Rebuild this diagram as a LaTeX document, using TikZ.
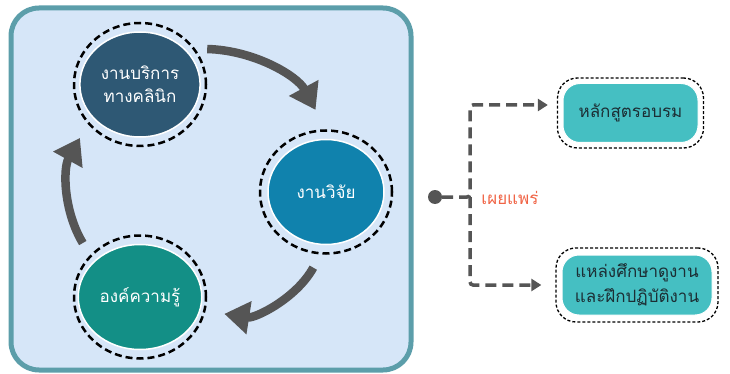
\documentclass[tikz,border=0pt]{standalone}
\usepackage{fontspec}
\usepackage{tikz}
\usetikzlibrary{shapes.geometric, arrows.meta}
\newfontfamily\thaifont[Script=Thai]{Loma}
\definecolor{panelfill}{RGB}{214,230,248}
\definecolor{panelline}{RGB}{92,158,170}
\definecolor{clinicblue}{RGB}{46,88,116}
\definecolor{researchblue}{RGB}{16,130,173}
\definecolor{knowgreen}{RGB}{19,143,134}
\definecolor{boxteal}{RGB}{69,191,194}
\definecolor{gris}{RGB}{85,85,85}
\definecolor{naranja}{RGB}{240,100,70}
\definecolor{tinta}{RGB}{28,46,52}

\begin{document}
\begin{tikzpicture}[
  x=1pt, y=1pt,
  ring/.style={draw, ellipse, line width=2.5pt, dash pattern=on 7pt off 4pt,
               minimum width=132pt, minimum height=123pt, inner sep=0pt},
  disc/.style={ellipse, draw=white, line width=1.5pt, minimum width=116pt,
               minimum height=105pt, align=center, text=white,
               font=\thaifont\fontsize{17}{23}\selectfont},
  frame/.style={draw, rounded corners=20pt, line width=1.3pt,
                dash pattern=on 3pt off 2pt, inner sep=0pt},
  pill/.style={rounded corners=17pt, draw=white, line width=1pt, fill=boxteal,
               align=center, text=tinta, inner sep=0pt,
               font=\thaifont\fontsize{17}{25}\selectfont},
  cyc/.style={draw=gris, line width=8.5pt, -{Triangle[width=32pt,length=25pt]}},
  flow/.style={draw=gris, line width=3.5pt, dash pattern=on 11pt off 6pt,
               rounded corners=3pt, -{Triangle[width=12pt,length=10pt]}},
  dot/.style={circle, fill=gris, minimum size=14pt, inner sep=0pt}
]
  \useasboundingbox (0,0) rectangle (730,-374);
  \draw[fill=panelfill, draw=panelline, line width=5pt, rounded corners=28pt]
    (11,-8) rectangle (411,-370);

  % cycle
  \node[ring] (clinic) at (140,-84.5) {};
  \node[disc, fill=clinicblue] (clinictxt) at (clinic) {งานบริการ\\ทางคลินิก};
  \node[ring] (research) at (326,-192) {};
  \node[disc, fill=researchblue] (researchtxt) at (research) {งานวิจัย};
  \node[ring] (knowledge) at (140,-297) {};
  \node[disc, fill=knowgreen] (knowledgetxt) at (knowledge) {องค์ความรู้};

  \draw[cyc, shorten <=12pt, shorten >=22pt] (clinic.33) to[bend left=30] (research.north);
  \draw[cyc, shorten <=15pt, shorten >=19pt] (research.265) to[bend left=35] (knowledge.348);
  \draw[cyc, shorten <=14pt, shorten >=16pt] (knowledge.140) to[bend left=30] (clinic.217);

  % dissemination
  \node[dot] (src) at (435,-197) {};
  \coordinate (split) at (470,-197);
  \node[text=naranja, font=\thaifont\fontsize{17}{20}\selectfont] (spread) at (510,-198) {เผยแพร่};

  \node[frame, minimum width=146pt, minimum height=70pt] (course) at (630.5,-113) {};
  \node[pill, minimum width=135pt, minimum height=59pt] (coursetxt) at (course) {หลักสูตรอบรม};
  \node[frame, minimum width=162pt, minimum height=74pt] (training) at (637,-285) {};
  \node[pill, minimum width=150pt, minimum height=60pt] (trainingtxt) at (training) {แหล่งศึกษาดูงาน\\และฝึกปฏิบัติงาน};

  \draw[flow, shorten >=9pt] (src) -- (split) |- ([yshift=8pt]course.west);
  \draw[flow, shorten >=14pt] (split) |- (training.west);
\end{tikzpicture}
\end{document}
